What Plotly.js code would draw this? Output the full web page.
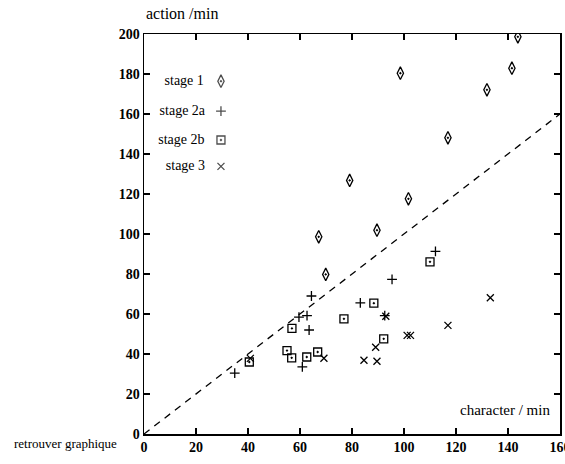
<!DOCTYPE html>
<html>
<head>
<meta charset="utf-8">
<script src="https://cdn.plot.ly/plotly-3.0.1.min.js"></script>
<style>html,body{margin:0;padding:0;background:#fff;}#chart{width:565px;height:464px;}</style>
</head>
<body>
<div id="chart"></div>
<script>
// Stage 1 (diamonds)
const stage1X = [67.2, 69.9, 79.1, 89.6, 98.6, 101.7, 116.9, 131.9, 141.5, 143.8];
const stage1Y = [98.6, 79.8, 126.8, 101.9, 180.4, 117.6, 148.1, 172.1, 182.9, 198.6];
// Stage 2a (plus)
const stage2aX = [34.9, 59.6, 62.7, 64.4, 63.5, 60.9, 83.2, 92.6, 95.4, 112.1];
const stage2aY = [30.4, 58.4, 59.2, 69.0, 52.0, 33.6, 65.6, 59.2, 77.3, 91.3];
// Stage 2b (squares)
const stage2bX = [40.5, 55.0, 56.9, 56.8, 62.6, 66.8, 76.9, 88.4, 92.2, 110.0];
const stage2bY = [36.0, 41.7, 52.8, 38.1, 38.5, 41.0, 57.6, 65.4, 47.6, 86.1];
// Stage 3 (crosses)
const stage3X = [40.9, 69.2, 84.6, 89.6, 89.1, 93.0, 101.2, 102.5, 116.9, 133.2];
const stage3Y = [37.8, 37.9, 36.9, 36.4, 43.4, 58.9, 49.3, 49.3, 54.3, 68.1];
// Reference line y = x
const diagX = [0, 160];
const diagY = [0, 160];

const legendNames = ["stage 1", "stage 2a", "stage 2b", "stage 3"];
const legendSymbols = ["diamond-tall-open-dot", "cross-thin-open", "square-open-dot", "x-thin-open"];
const symbolSizes = [9, 7, 8, 7];

const serif = "'Times New Roman', 'Liberation Serif', Times, serif";
const black = "#000";

function pts(x, y, i) {
  return {
    x: x, y: y, type: "scatter", mode: "markers", showlegend: false, hoverinfo: "skip",
    marker: {symbol: legendSymbols[i], size: symbolSizes[i], color: black, line: {color: black, width: 1.3}}
  };
}

const traces = [
  {x: diagX, y: diagY, type: "scatter", mode: "lines", showlegend: false, hoverinfo: "skip",
   line: {color: black, width: 1.3, dash: "7px,6px"}},
  pts(stage1X, stage1Y, 0),
  pts(stage2aX, stage2aY, 1),
  pts(stage2bX, stage2bY, 2),
  pts(stage3X, stage3Y, 3)
];

// Legend entries: text to the left of the symbol, on an invisible overlay axis
const legY = [0.882, 0.807, 0.735, 0.669];
traces.push({
  x: legendNames.map(() => 0.185), y: legY, xaxis: "x2", yaxis: "y2",
  type: "scatter", mode: "markers+text", text: legendNames.map(n => n + "\u00a0\u00a0\u00a0"),
  textposition: "middle left",
  textfont: {family: serif, size: 14, color: black}, showlegend: false, hoverinfo: "skip",
  marker: {symbol: legendSymbols, size: symbolSizes, color: black, line: {color: black, width: 1.3}}
});

const tickFont = {family: serif, size: 14, color: black, weight: "bold"};
const axisBase = {dtick: 20, tick0: 0, ticks: "inside", ticklen: 6, tickwidth: 1.3,
  tickcolor: black, mirror: "ticks", showline: true, linecolor: black, linewidth: 1.5,
  showgrid: false, zeroline: false, tickfont: tickFont, fixedrange: true, ticklabeloverflow: "allow"};
const layout = {
  width: 565, height: 464,
  margin: {l: 144, r: 5, t: 34, b: 30},
  paper_bgcolor: "#fff", plot_bgcolor: "#fff",
  showlegend: false,
  xaxis: Object.assign({range: [0, 160]}, axisBase),
  yaxis: Object.assign({range: [0, 200]}, axisBase),
  xaxis2: {overlaying: "x", range: [0, 1], visible: false},
  yaxis2: {overlaying: "y", range: [0, 1], visible: false},
  annotations: [
    {text: "action /min", xref: "paper", yref: "paper", x: 0, y: 1.05, xanchor: "left", yanchor: "middle",
     showarrow: false, font: {family: serif, size: 16, color: black}},
    {text: "character / min", xref: "paper", yref: "paper", x: 0.98, y: 0.061, xanchor: "right", yanchor: "middle",
     showarrow: false, font: {family: serif, size: 15, color: black}},
    {text: "retrouver graphique", xref: "paper", yref: "paper", x: -0.318, y: -0.024, xanchor: "left", yanchor: "middle",
     showarrow: false, font: {family: serif, size: 13, color: black}}
  ]
};

Plotly.newPlot("chart", traces, layout, {staticPlot: true, displayModeBar: false});
</script>
</body>
</html>
